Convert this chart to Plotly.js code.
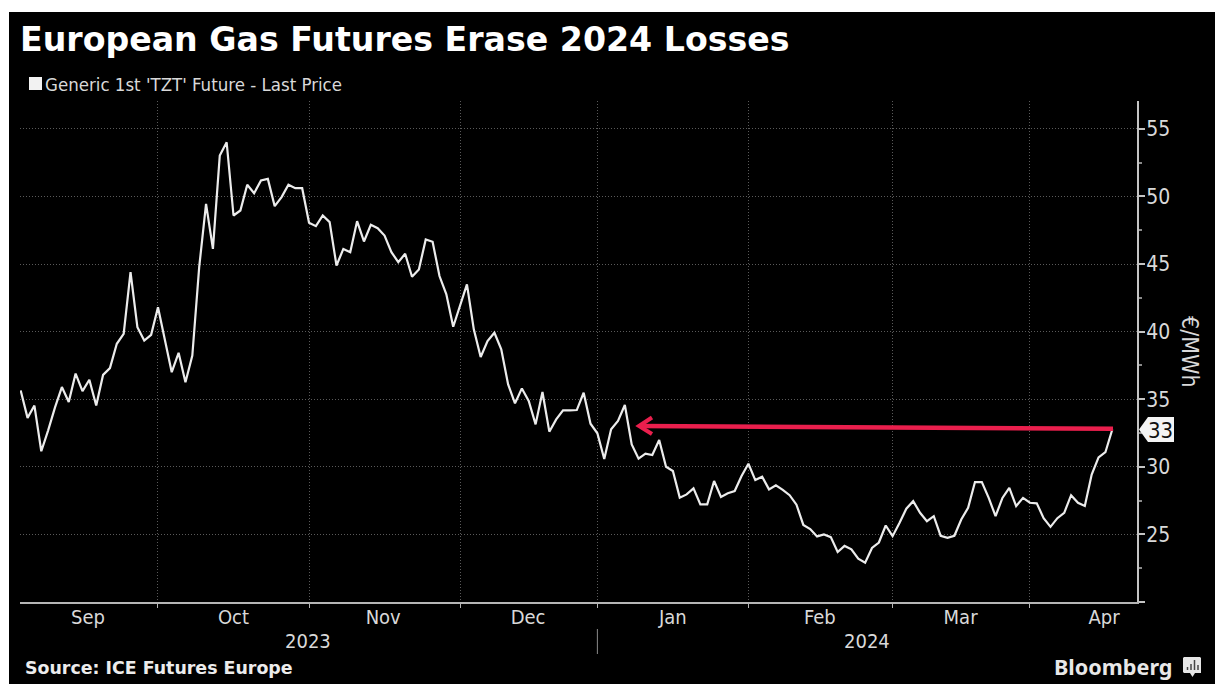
<!DOCTYPE html>
<html>
<head>
<meta charset="utf-8">
<script src="https://cdn.plot.ly/plotly-3.0.1.min.js"></script>
<style>
html, body { margin: 0; padding: 0; background: #fff; overflow: hidden; }
#chart { position: absolute; left: 9px; top: 12px; width: 1206px; height: 672px; }
</style>
</head>
<body>
<div id="chart"></div>
<script>
// Generic 1st TZT future, last price in EUR/MWh, one value per trading day
const price = [
  35.65, 33.62, 34.53, 31.15, 32.7, 34.4, 35.9, 34.8, 36.9, 35.6,
  36.44, 34.53, 36.8, 37.3, 39.1, 39.84, 44.4, 40.33, 39.34, 39.76,
  41.81, 39.34, 37.0, 38.43, 36.26, 38.23, 44.77, 49.45, 46.12, 53.03,
  54.01, 48.59, 48.96, 50.86, 50.24, 51.18, 51.3, 49.28, 49.95, 50.86,
  50.61, 50.61, 48.05, 47.8, 48.59, 48.1, 44.89, 46.12, 45.88, 48.17,
  46.67, 47.9, 47.65, 47.11, 45.88, 45.14, 45.76, 44.06, 44.6, 46.82,
  46.65, 44.11, 42.76, 40.36, 41.94, 43.5, 40.17, 38.12, 39.3, 39.92,
  38.69, 36.1, 34.69, 35.8, 34.87, 33.14, 35.53, 32.6, 33.51, 34.18,
  34.18, 34.2, 35.48, 33.19, 32.48, 30.58, 32.77, 33.39, 34.57, 31.66,
  30.6, 30.97, 30.87, 31.98, 30.0, 29.69, 27.72, 27.96, 28.41, 27.22,
  27.22, 28.95, 27.77, 28.04, 28.21, 29.32, 30.23, 29.02, 29.27, 28.33,
  28.63, 28.3, 27.9, 27.2, 25.7, 25.4, 24.85, 25.0, 24.8, 23.7,
  24.15, 23.9, 23.2, 22.9, 24.0, 24.4, 25.66, 24.87, 25.85, 26.9,
  27.46, 26.6, 25.98, 26.35, 24.9, 24.75, 24.9, 26.1, 26.97, 28.87,
  28.87, 27.7, 26.35, 27.7, 28.45, 27.1, 27.7, 27.34, 27.3, 26.2,
  25.56, 26.2, 26.6, 27.9, 27.34, 27.1, 29.43, 30.7, 31.08, 32.76
];
const tradingDay = price.map((_, i) => i);

// Month labels sit between the month boundaries, counted in trading days
const monthNames = ['Sep', 'Oct', 'Nov', 'Dec', 'Jan', 'Feb', 'Mar', 'Apr'];
const monthCentres = [9.8, 31, 52.8, 73.9, 95, 116.4, 136.9, 157.8];
const monthStarts = [20, 42, 64, 84, 106, 127, 147];
const yearLabels = ['2023', '2024'];
const yearCentres = [41.9, 123.2];
const yearBoundary = 84;

const priceTicks = [20, 25, 30, 35, 40, 45, 50, 55];
const priceTickLabels = ['', '25', '30', '35', '40', '45', '50', '55'];
const priceMinorTicks = [22.5, 27.5, 32.5, 37.5, 42.5, 47.5, 52.5];
const lastPrice = 33;

const W = 1206, H = 672, OX = 9, OY = 12;
const plot = { l: 20, r: 1137, t: 101, b: 602 };
const margin = { l: plot.l - OX, r: OX + W - plot.r, t: plot.t - OY, b: OY + H - plot.b, pad: 0 };
// Window pixels to paper fractions, for the furniture around the axes
const px = x => (x - plot.l) / (plot.r - plot.l);
const py = y => (plot.b - y) / (plot.b - plot.t);

const bodyFont = '"DejaVu Sans Condensed", "DejaVu Sans", sans-serif';
const boldFont = '"DejaVu Sans", sans-serif';
const textGrey = '#d9d9d9';
const red = '#ea1f4d';

function label(text, x, y, size, extra) {
  return Object.assign({
    text, xref: 'paper', yref: 'paper', x: px(x), y: py(y), showarrow: false,
    xanchor: 'left', yanchor: 'middle',
    font: { family: bodyFont, size, color: textGrey }
  }, extra || {});
}

const annotations = [
  label('<b>European Gas Futures Erase 2024 Losses</b>', 18, 39, 33.2, { font: { family: boldFont, size: 33.2, color: '#fff' } }),
  label("Generic 1st 'TZT' Future - Last Price", 43, 84, 18.5),
  label('<b>Source: ICE Futures Europe</b>', 23, 668, 17.4, { font: { family: boldFont, size: 17.4, color: '#ececec' } }),
  label('<b>Bloomberg</b>', 1052, 666, 21.6, { font: { family: '"Noto Sans", sans-serif', size: 21.6, color: '#e8e8e8' } }),
  label('€/MWh', 1190, 352, 23, { xanchor: 'center', textangle: 90 }),
  label(String(lastPrice), 1160, 430, 22, { xanchor: 'center', font: { family: bodyFont, size: 22, color: '#111' } })
].concat(yearLabels.map((t, i) => ({
  text: t, xref: 'x', yref: 'paper', x: yearCentres[i], y: py(641), showarrow: false,
  xanchor: 'center', yanchor: 'middle', font: { family: bodyFont, size: 20, color: textGrey }
})));

const shapes = [
  // Legend swatch
  { type: 'rect', xref: 'paper', yref: 'paper', x0: px(29), x1: px(42), y0: py(77), y1: py(90), fillcolor: '#f2f2f2', line: { width: 0 } },
  // Divider between the two calendar years
  { type: 'line', xref: 'x', yref: 'paper', x0: yearBoundary, x1: yearBoundary, y0: py(629), y1: py(654), line: { color: '#8a8a8a', width: 1 } },
  // Arrow from the latest price back to the matching level in December
  { type: 'line', xref: 'paper', yref: 'paper', x0: px(1113), y0: py(428.8), x1: px(640), y1: py(426), line: { color: red, width: 4.5 } },
  { type: 'path', xref: 'paper', yref: 'paper',
    path: `M ${px(652)} ${py(417.5)} L ${px(639)} ${py(426)} L ${px(652)} ${py(434)}`,
    line: { color: red, width: 4 } },
  // Latest price tag
  { type: 'path', xref: 'paper', yref: 'paper',
    path: `M ${px(1139)} ${py(429.5)} L ${px(1148)} ${py(417)} L ${px(1174)} ${py(417)} L ${px(1174)} ${py(442)} L ${px(1148)} ${py(442)} Z`,
    fillcolor: '#f4f4f4', line: { width: 0 } },
  // Bloomberg mark: speech bubble with small chart bars
  { type: 'path', xref: 'paper', yref: 'paper',
    path: `M ${px(1184)} ${py(657)} L ${px(1200)} ${py(657)} L ${px(1201)} ${py(658)} L ${px(1201)} ${py(673)} L ${px(1195)} ${py(673)} L ${px(1192.5)} ${py(677)} L ${px(1190)} ${py(673)} L ${px(1184)} ${py(673)} L ${px(1183)} ${py(672)} L ${px(1183)} ${py(658)} Z`,
    fillcolor: '#e6e6e6', line: { width: 0 } }
].concat([[1187.5, 667], [1191, 664], [1194.5, 660], [1198, 665]].map(b => ({
  type: 'line', xref: 'paper', yref: 'paper', x0: px(b[0]), x1: px(b[0]), y0: py(670), y1: py(b[1]),
  line: { color: '#444', width: 1.5 }
})));

const trace = {
  type: 'scatter', mode: 'lines', x: tradingDay, y: price,
  line: { color: '#ececec', width: 2.2, shape: 'linear' },
  hoverinfo: 'y', cliponaxis: false, showlegend: false
};

const layout = {
  width: W, height: H, margin, showlegend: false,
  paper_bgcolor: '#000', plot_bgcolor: '#000',
  font: { family: bodyFont, color: textGrey },
  annotations, shapes,
  xaxis: {
    range: [-0.1, 162.6], zeroline: false, showgrid: false,
    showline: true, linecolor: '#b5b5b5', linewidth: 2,
    tickmode: 'array', tickvals: monthCentres, ticktext: monthNames,
    ticks: '', ticklabelstandoff: -4, tickfont: { family: bodyFont, size: 20, color: textGrey },
    minor: { tickmode: 'array', tickvals: monthStarts, ticks: 'outside', ticklen: 4, tickcolor: '#b5b5b5',
      showgrid: true, gridcolor: '#5a5a5a', griddash: '1px,2px', gridwidth: 1 }
  },
  yaxis: {
    side: 'right', range: [20, 57.06], zeroline: false,
    showline: true, linecolor: '#c4c4c4', linewidth: 2,
    tickmode: 'array', tickvals: priceTicks, ticktext: priceTickLabels,
    ticks: 'outside', ticklen: 6, tickcolor: '#c4c4c4', tickwidth: 2, ticklabelstandoff: -3,
    tickfont: { family: bodyFont, size: 21, color: textGrey },
    showgrid: true, gridcolor: '#5a5a5a', griddash: '1px,2px', gridwidth: 1,
    minor: { tickmode: 'array', tickvals: priceMinorTicks, ticks: 'outside', ticklen: 3, tickcolor: '#8a8a8a', showgrid: false }
  }
};

Plotly.newPlot('chart', [trace], layout, { displayModeBar: false, staticPlot: true });
</script>
</body>
</html>
